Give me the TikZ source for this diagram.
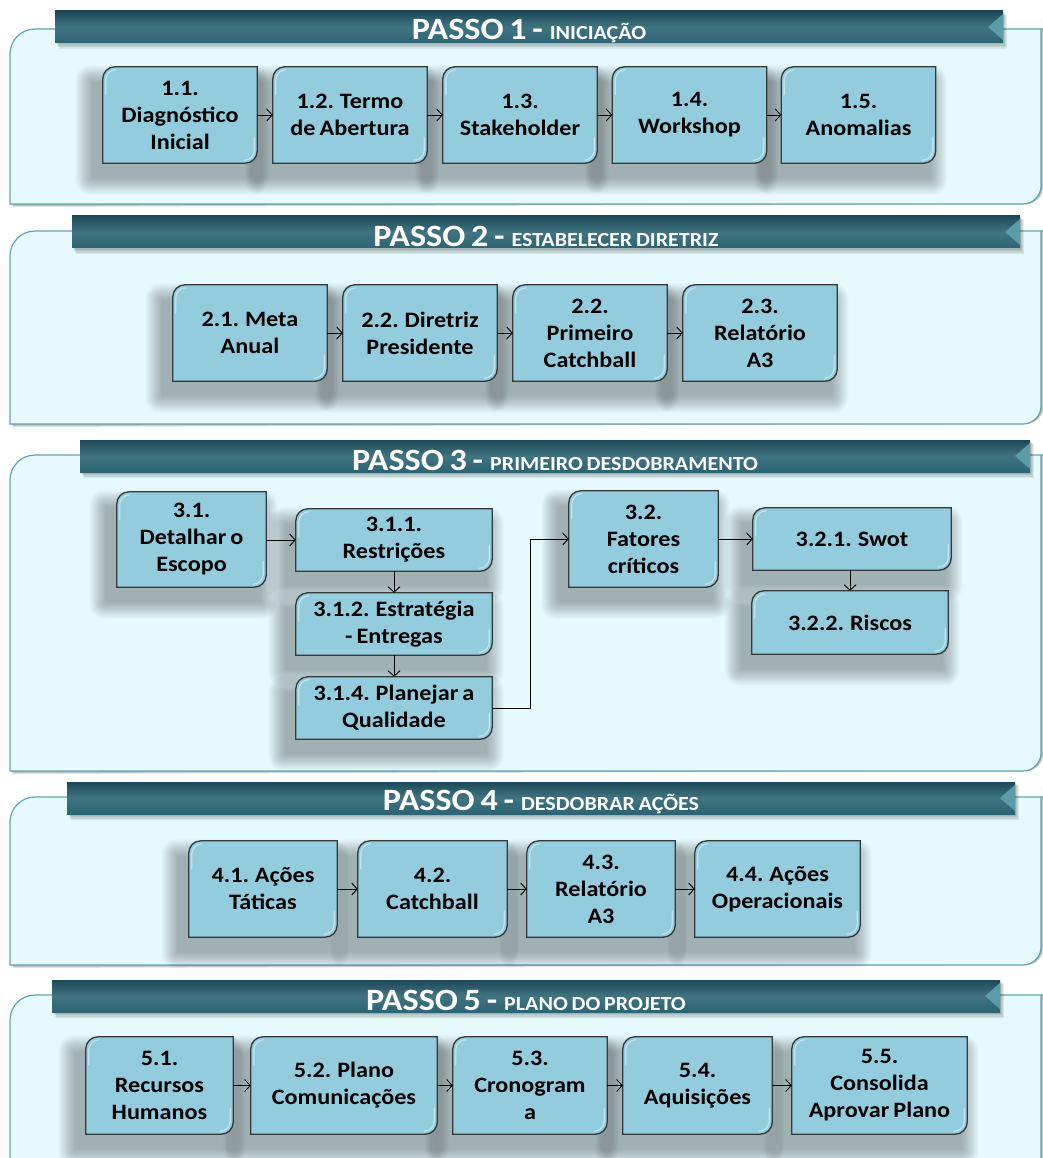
\documentclass[tikz,border=0pt]{standalone}
\usepackage{fontspec}
\setmainfont{Carlito}[FakeStretch=1.1,WordSpace=0.75]
\usetikzlibrary{arrows.meta,calc}

\definecolor{panelfill}{HTML}{E6F9FD}
\definecolor{panelline}{HTML}{5FA5B5}
\definecolor{bannerdark}{HTML}{1C4957}
\definecolor{bannermid}{HTML}{2B6473}
\definecolor{bannertip}{HTML}{5B9CA9}
\definecolor{boxfill}{HTML}{93CDDD}
\definecolor{boxline}{HTML}{34393C}

\pgfdeclarelayer{panels}
\pgfdeclarelayer{shadows}
\pgfdeclarelayer{boxes}
\pgfsetlayers{panels,shadows,boxes,main}

\tikzset{
  stepbox/.style={align=center, inner sep=0pt,
    font=\fontsize{22}{27}\selectfont\bfseries},
  conn/.style={draw=black, line width=0.9pt,
    -{Straight Barb[length=5.5pt,width=12pt,line width=0.9pt]}},
  bannertext/.style={text=white, inner sep=0pt, font=\bfseries},
}

% rounded panel with a soft drop shadow: #1 top, #2 bottom
\newcommand\steppanel[2]{%
  \begin{pgfonlayer}{panels}
    \foreach \k in {1,2,3}
      \fill[black,opacity=0.12]
        (10+\k,-#2-\k) -- (10+\k,-#1-25) arc[start angle=180,end angle=90,radius=25]
        -- (1043,-#1) -- (1041+\k,-#1) -- (1041+\k,-#2+18)
        arc[start angle=0,end angle=-90,radius=18] -- cycle;
    \draw[panelline, fill=panelfill, line width=1.2pt]
      (10,-#2) -- (10,-#1-25) arc[start angle=180,end angle=90,radius=25]
      -- (1043,-#1) -- (1041,-#1) -- (1041,-#2+18)
      arc[start angle=0,end angle=-90,radius=18] -- cycle;
  \end{pgfonlayer}}

% title ribbon: #1 left, #2 right, #3 top, #4 large text, #5 small text, #6 name
\newcommand\stepbanner[6]{%
  \begin{pgfonlayer}{panels}
    \foreach \k in {1,...,4}
      \fill[black,opacity=0.08] (#1+\k,-#3-\k) rectangle (#2+\k,-#3-32-1.5*\k);
    \shade[top color=bannerdark, bottom color=bannermid, middle color=bannermid!90!white]
      (#1,-#3) rectangle (#2,-#3-32);
    \fill[bannertip] (#2,-#3-3) -- (#2-15,-#3-16) -- (#2,-#3-29) -- cycle;
  \end{pgfonlayer}
  \node[bannertext] (#6) at ({(#1+#2)/2},{-#3-20.5})
    {\fontsize{31}{31}\selectfont #4\hspace{7pt}\fontsize{20}{20}\selectfont #5};}

% box outline with two rounded corners and a blurred shadow
\newcommand\boxshape[1]{%
  \begin{pgfonlayer}{shadows}
    \foreach \k in {0,...,15}
      \fill[black,opacity=0.02, rounded corners=\k pt]
        ([xshift=-11pt-1.1*\k pt, yshift=-15pt-1.1*\k pt]#1.south west)
        rectangle ([xshift=-5pt+1.1*\k pt, yshift=-15pt+1.1*\k pt]#1.north east);
  \end{pgfonlayer}
  \begin{pgfonlayer}{boxes}
    \draw[boxline, fill=boxfill, line width=1.3pt]
      (#1.south west) -- ([yshift=-12pt]#1.north west)
      arc[start angle=180,end angle=90,radius=12pt] -- (#1.north east)
      -- ([yshift=12pt]#1.south east)
      arc[start angle=0,end angle=-90,radius=12pt] -- cycle;
    \draw[white, opacity=0.45, line width=1.2pt, line cap=round]
      ([xshift=3pt,yshift=-28pt]#1.north west) -- ([xshift=3pt,yshift=-13pt]#1.north west)
      arc[start angle=180,end angle=90,radius=10pt];
    \draw[white, opacity=0.45, line width=1.2pt, line cap=round]
      ([xshift=-3pt,yshift=26pt]#1.south east) -- ([xshift=-3pt,yshift=13pt]#1.south east)
      arc[start angle=0,end angle=-90,radius=10pt];
  \end{pgfonlayer}}

\begin{document}
\begin{tikzpicture}[x=1pt,y=1pt]
\useasboundingbox (0,0) rectangle (1043,-1158);
\begin{pgfonlayer}{panels}
  \fill[white] (0,0) rectangle (1043,-1158);
\end{pgfonlayer}

% ---- panels and ribbons
\steppanel{29}{204}
\stepbanner{55}{1003}{11}{PASSO 1 -}{INICIAÇÃO}{t1}
\steppanel{231}{424}
\stepbanner{72}{1020}{216}{PASSO 2 -}{ESTABELECER DIRETRIZ}{t2}
\steppanel{455}{771}
\stepbanner{80}{1030}{440}{PASSO 3 -}{PRIMEIRO DESDOBRAMENTO}{t3}
\steppanel{797}{965}
\stepbanner{67}{1015}{782}{PASSO 4 -}{DESDOBRAR AÇÕES}{t4}
\steppanel{995}{1180}
\stepbanner{52}{1000}{980}{PASSO 5 -}{PLANO DO PROJETO}{t5}

% ---- step 1
\node[stepbox, minimum width=154pt, minimum height=96pt] (b11) at (180,-115) {1.1.\\Diagnóstico\\Inicial};
\node[stepbox, minimum width=154pt, minimum height=96pt] (b12) at (350,-115) {1.2. Termo\\de Abertura};
\node[stepbox, minimum width=154pt, minimum height=96pt] (b13) at (520,-115) {1.3.\\Stakeholder};
\node[stepbox, minimum width=154pt, minimum height=96pt] (b14) at (689.5,-115) {1.4.\\Workshop};
\node[stepbox, minimum width=154pt, minimum height=96pt] (b15) at (858.5,-115) {1.5.\\Anomalias};

% ---- step 2
\node[stepbox, minimum width=154pt, minimum height=96pt] (b21) at (250,-333) {2.1. Meta\\Anual};
\node[stepbox, minimum width=154pt, minimum height=96pt] (b22) at (420,-333) {2.2. Diretriz\\Presidente};
\node[stepbox, minimum width=154pt, minimum height=96pt] (b23) at (590,-333) {2.2.\\Primeiro\\Catchball};
\node[stepbox, minimum width=154pt, minimum height=96pt] (b24) at (760,-333) {2.3.\\Relatório\\A3};

% ---- step 3
\node[stepbox, minimum width=149pt, minimum height=95pt] (b31) at (191.5,-539.5) {3.1.\\Detalhar o\\Escopo};
\node[stepbox, minimum width=196pt, minimum height=62pt] (b311) at (394,-540) {3.1.1.\\Restrições};
\node[stepbox, minimum width=196pt, minimum height=62pt] (b312) at (394,-624) {3.1.2. Estratégia\\- Entregas};
\node[stepbox, minimum width=196pt, minimum height=62pt] (b314) at (394,-708) {3.1.4. Planejar a\\Qualidade};
\node[stepbox, minimum width=149pt, minimum height=96pt] (b32) at (643.5,-539) {3.2.\\Fatores\\críticos};
\node[stepbox, minimum width=198pt, minimum height=62pt] (b321) at (852,-539) {3.2.1. Swot};
\node[stepbox, minimum width=196pt, minimum height=63pt] (b322) at (850,-622.5) {3.2.2. Riscos};

% ---- step 4
\node[stepbox, minimum width=148pt, minimum height=96pt] (b41) at (263,-889) {4.1. Ações\\Táticas};
\node[stepbox, minimum width=149pt, minimum height=96pt] (b42) at (432.5,-889) {4.2.\\Catchball};
\node[stepbox, minimum width=148pt, minimum height=96pt] (b43) at (601,-889) {4.3.\\Relatório\\A3};
\node[stepbox, minimum width=165pt, minimum height=96pt] (b44) at (777.5,-889) {4.4. Ações\\Operacionais};

% ---- step 5
\node[stepbox, minimum width=147pt, minimum height=97pt] (b51) at (159.5,-1085.5) {5.1.\\Recursos\\Humanos};
\node[stepbox, minimum width=186pt, minimum height=97pt] (b52) at (344,-1085.5) {5.2. Plano\\Comunicações};
\node[stepbox, minimum width=154pt, minimum height=97pt] (b53) at (530,-1085.5) {5.3.\\Cronogram\\a};
\node[stepbox, minimum width=149pt, minimum height=97pt] (b54) at (697.5,-1085.5) {5.4.\\Aquisições};
\node[stepbox, minimum width=175pt, minimum height=97pt] (b55) at (879.5,-1085.5) {5.5.\\Consolida\\Aprovar Plano};

\foreach \n in {b11,b12,b13,b14,b15,b21,b22,b23,b24,b31,b311,b312,b314,b32,b321,b322,b41,b42,b43,b44,b51,b52,b53,b54,b55}
  \boxshape{\n};

% ---- connectors
\draw[conn] (b11) -- (b12);
\draw[conn] (b12) -- (b13);
\draw[conn] (b13) -- (b14);
\draw[conn] (b14) -- (b15);
\draw[conn] (b21) -- (b22);
\draw[conn] (b22) -- (b23);
\draw[conn] (b23) -- (b24);
\draw[conn] (b31.east |- b311.west) -- (b311.west);
\draw[conn] (b311.south) -- (b312.north);
\draw[conn] (b312.south) -- (b314.north);
\coordinate (bend) at ([xshift=-38pt]b32.west);
\draw[conn] (b314.east) -| (bend) -- (b32.west);
\draw[conn] (b32.east |- b321.west) -- (b321.west);
\draw[conn] (b322.north |- b321.south) -- (b322.north);
\draw[conn] (b41) -- (b42);
\draw[conn] (b42) -- (b43);
\draw[conn] (b43) -- (b44);
\draw[conn] (b51) -- (b52);
\draw[conn] (b52) -- (b53);
\draw[conn] (b53) -- (b54);
\draw[conn] (b54) -- (b55);
\end{tikzpicture}
\end{document}
